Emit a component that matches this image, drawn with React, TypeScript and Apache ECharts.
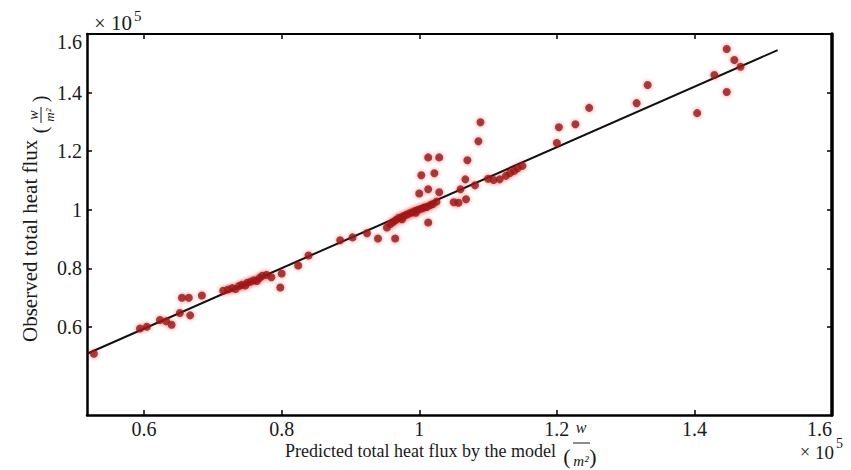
import React, { useEffect, useRef } from 'react';
import * as echarts from 'echarts';

// values in units of 10^5 W/m^2
const predicted = [
  0.527, 0.594, 0.604, 0.623, 0.632, 0.640, 0.652, 0.655, 0.665, 0.667, 0.684,
  0.715, 0.722, 0.728, 0.733, 0.738, 0.742, 0.747, 0.750, 0.755, 0.760, 0.764, 0.768, 0.772, 0.778, 0.785,
  0.798, 0.800, 0.824, 0.839, 0.885, 0.903, 0.924, 0.940, 0.965,
  0.953, 0.958, 0.962, 0.966, 0.970, 0.974, 0.978, 0.982, 0.986, 0.990, 0.994, 0.998, 1.003, 1.007, 1.011, 1.016, 1.020, 1.025, 0.975, 0.995, 1.013,
  1.000, 1.013, 1.029, 1.003, 1.022, 1.013, 1.029, 1.060, 1.067, 1.070, 1.081, 1.086, 1.089, 1.050, 1.057, 1.068,
  1.100, 1.108, 1.117, 1.126, 1.132, 1.138, 1.143, 1.150,
  1.200, 1.203, 1.227, 1.247, 1.316, 1.332, 1.404, 1.429, 1.447, 1.458, 1.467, 1.447,
];
const observed = [
  0.509, 0.595, 0.601, 0.624, 0.620, 0.608, 0.648, 0.700, 0.700, 0.640, 0.708,
  0.724, 0.728, 0.733, 0.730, 0.740, 0.744, 0.742, 0.751, 0.755, 0.760, 0.757, 0.768, 0.775, 0.778, 0.770,
  0.735, 0.783, 0.810, 0.844, 0.896, 0.906, 0.920, 0.902, 0.902,
  0.940, 0.952, 0.958, 0.965, 0.972, 0.975, 0.980, 0.984, 0.988, 0.992, 0.996, 1.000, 1.004, 1.008, 1.010, 1.016, 1.020, 1.028, 0.968, 0.990, 0.957,
  1.056, 1.070, 1.060, 1.118, 1.125, 1.179, 1.179, 1.070, 1.104, 1.169, 1.084, 1.234, 1.299, 1.026, 1.024, 1.036,
  1.106, 1.102, 1.104, 1.116, 1.126, 1.133, 1.142, 1.150,
  1.228, 1.282, 1.292, 1.348, 1.364, 1.426, 1.330, 1.460, 1.549, 1.511, 1.488, 1.402,
];
const fitX = [0.517, 1.521];
const fitY = [0.509, 1.545];
const xTicks = [0.6, 0.8, 1.0, 1.2, 1.4, 1.6];
const yTicks = [0.6, 0.8, 1.0, 1.2, 1.4, 1.6];
const xMin = 0.517, xMax = 1.6, yMin = 0.3, yMax = 1.6;

const SERIF = "'Liberation Serif', 'DejaVu Serif', serif";
const INK = '#1a1a1a';
const fmt = (v: number) => String(parseFloat(v.toFixed(1)));

export default function App() {
  const ref = useRef<HTMLDivElement>(null);
  useEffect(() => {
    if (!ref.current) return;
    const chart = echarts.init(ref.current, null, { renderer: 'svg' });
    const tickStyle = { color: '#000', width: 1.5 };
    const baseX = (pos: 'bottom' | 'top', lineW: number, showLabel: boolean) => ({
      type: 'value', min: xMin, max: xMax, position: pos,
      axisLine: { show: true, onZero: false, lineStyle: { color: '#000', width: lineW } },
      axisTick: { show: true, inside: true, length: 5, lineStyle: tickStyle, customValues: xTicks },
      axisLabel: {
        show: showLabel, customValues: xTicks, formatter: fmt, color: INK,
        fontFamily: SERIF, fontSize: 20, lineHeight: 16, margin: 6, alignMaxLabel: 'right',
      },
      splitLine: { show: false },
    });
    const baseY = (pos: 'left' | 'right', lineW: number, showLabel: boolean) => ({
      type: 'value', min: yMin, max: yMax, position: pos,
      axisLine: { show: true, onZero: false, lineStyle: { color: '#000', width: lineW } },
      axisTick: { show: true, inside: true, length: 5, lineStyle: tickStyle, customValues: yTicks },
      axisLabel: {
        show: showLabel, customValues: yTicks, formatter: fmt, color: INK,
        fontFamily: SERIF, fontSize: 20, lineHeight: 16, margin: 5, verticalAlignMaxLabel: 'top',
      },
      splitLine: { show: false },
    });
    const txt = (text: string, size: number, extra: any = {}) => ({
      text, fontFamily: SERIF, fontSize: size, fill: INK, lineHeight: Math.round(size * 0.75),
      textVerticalAlign: 'middle', ...extra,
    });
    const ital = (text: string, size: number) => txt(text, size, { fontStyle: 'italic', textAlign: 'center' });
    chart.setOption({
      animation: false,
      backgroundColor: '#fff',
      grid: { left: 87, right: 19, top: 34, bottom: 55, containLabel: false },
      xAxis: [baseX('bottom', 2.5, true), baseX('top', 2, false)],
      yAxis: [baseY('left', 2.5, true), baseY('right', 3.5, false)],
      series: [
        {
          type: 'line', xAxisIndex: 0, yAxisIndex: 0,
          data: fitX.map((x, i) => [x, fitY[i]]),
          showSymbol: false, lineStyle: { color: '#111', width: 2 }, z: 2,
        },
        {
          type: 'scatter', xAxisIndex: 0, yAxisIndex: 0,
          data: predicted.map((x, i) => [x, observed[i]]),
          symbolSize: 8,
          itemStyle: { color: '#921616', shadowColor: 'rgba(225,20,20,0.6)', shadowBlur: 4 },
          z: 3,
        },
      ],
      graphic: [
        // ×10^5 top-left
        { type: 'text', x: 100, y: 23, style: txt('×', 20, { textAlign: 'center' }) },
        { type: 'text', x: 111, y: 23, style: txt('10', 21, { textAlign: 'left' }) },
        { type: 'text', x: 134, y: 16, style: txt('5', 15, { textAlign: 'left' }) },
        // ×10^5 bottom-right
        { type: 'text', x: 805, y: 452, style: txt('×', 18, { textAlign: 'center' }) },
        { type: 'text', x: 815, y: 452, style: txt('10', 19, { textAlign: 'left' }) },
        { type: 'text', x: 836, y: 443, style: txt('5', 14, { textAlign: 'left' }) },
        // x axis title
        {
          type: 'group', x: 285, y: 451, children: [
            { type: 'text', x: 0, y: 0, style: txt('Predicted total heat flux by the model', 18, { textAlign: 'left' }) },
            { type: 'text', x: 282, y: 5, style: txt('(', 22, { textAlign: 'center' }) },
            { type: 'text', x: 296, y: -24, style: ital('w', 16) },
            { type: 'line', shape: { x1: 288, y1: -8, x2: 305, y2: -8 }, style: { stroke: INK, lineWidth: 1 } },
            { type: 'text', x: 296, y: 10, style: ital('m²', 15) },
            { type: 'text', x: 308, y: 5, style: txt(')', 22, { textAlign: 'center' }) },
          ],
        },
        // y axis title (rotated)
        {
          type: 'group', x: 30, y: 342, rotation: Math.PI / 2, children: [
            { type: 'text', x: 0, y: 0, style: txt('Observed total heat flux', 21, { textAlign: 'left' }) },
            { type: 'text', x: 212, y: 10, style: txt('(', 20, { textAlign: 'center' }) },
            { type: 'text', x: 227, y: 3, style: ital('w', 14) },
            { type: 'line', shape: { x1: 219, y1: 11, x2: 235, y2: 11 }, style: { stroke: INK, lineWidth: 1 } },
            { type: 'text', x: 227, y: 19, style: ital('m²', 13) },
            { type: 'text', x: 243, y: 10, style: txt(')', 20, { textAlign: 'center' }) },
          ],
        },
      ],
    });
    return () => chart.dispose();
  }, []);
  return <div ref={ref} style={{ position: 'absolute', left: 0, top: 0, width: 851, height: 470 }} />;
}
